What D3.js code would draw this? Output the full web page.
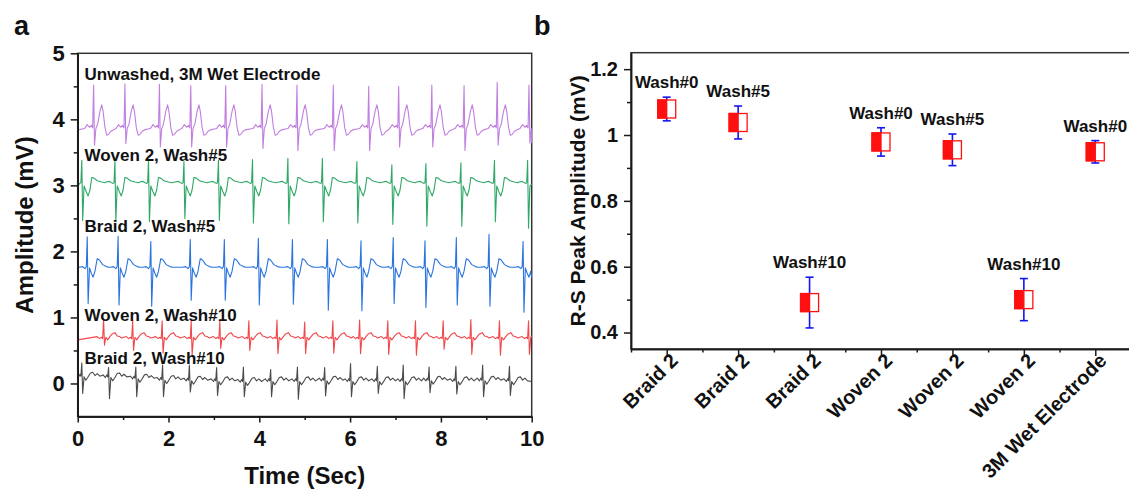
<!DOCTYPE html>
<html>
<head>
<meta charset="utf-8">
<script src="https://cdn.jsdelivr.net/npm/d3@7"></script>
<style>
  body { margin: 0; background: #fff; }
  svg text { font-family: "Liberation Sans", Arial, sans-serif; font-weight: bold; fill: #111; }
</style>
</head>
<body>
<svg id="chart"></svg>
<script>
// ---------- panel a : ECG traces ----------
// each trace: R-peak times (s), R and S values (mV) per beat, and a beat shape
// [time from R, mV] ([0, 0] marks where the R/S spike goes)
const traceNames = ["Unwashed, 3M Wet Electrode", "Woven 2, Wash#5", "Braid 2, Wash#5", "Woven 2, Wash#10", "Braid 2, Wash#10"];

const beats3M = [0.35, 1.04, 1.80, 2.49, 3.26, 4.06, 4.83, 5.63, 6.41, 7.07, 7.80, 8.51, 9.24, 9.94];
const rPeak3M = [4.52, 4.54, 4.53, 4.51, 4.51, 4.53, 4.52, 4.52, 4.50, 4.50, 4.52, 4.51, 4.56, 4.52];
const sPeak3M = [3.61, 3.63, 3.58, 3.58, 3.58, 3.56, 3.53, 3.53, 3.53, 3.58, 3.58, 3.53, 3.61, 3.64];
const shape3M = [[-0.20, 3.86], [-0.14, 3.92], [-0.09, 3.88], [-0.05, 3.91], [-0.02, 3.87], [0, 0],
  [0.05, 3.86], [0.09, 3.93], [0.14, 4.12], [0.18, 4.22], [0.21, 4.12], [0.25, 3.88], [0.29, 3.76],
  [0.33, 3.77], [0.38, 3.82], [0.43, 3.84]];

const beatsW5 = [0.09, 0.82, 1.56, 2.34, 3.10, 3.85, 4.63, 5.39, 6.15, 6.92, 7.67, 8.44, 9.18, 9.91];
const rPeakW5 = [3.38, 3.38, 3.38, 3.36, 3.38, 3.39, 3.41, 3.41, 3.36, 3.31, 3.33, 3.34, 3.38, 3.38];
const sPeakW5 = [2.47, 2.45, 2.45, 2.50, 2.47, 2.43, 2.42, 2.45, 2.43, 2.41, 2.38, 2.38, 2.45, 2.35];
const shapeW5 = [[-0.20, 3.05], [-0.12, 3.06], [-0.05, 3.03], [-0.02, 3.04], [0, 0],
  [0.05, 2.99], [0.10, 2.90], [0.14, 2.84], [0.18, 2.93], [0.22, 3.12], [0.27, 3.11], [0.34, 3.07],
  [0.44, 3.05], [0.52, 3.04]];

const beatsB5 = [0.21, 0.89, 1.61, 2.48, 3.23, 3.98, 4.73, 5.50, 6.24, 6.95, 7.65, 8.34, 9.06, 9.81];
const rPeakB5 = [2.22, 2.23, 2.15, 2.18, 2.18, 2.20, 2.18, 2.18, 2.16, 2.21, 2.16, 2.21, 2.26, 2.15];
const sPeakB5 = [1.21, 1.19, 1.17, 1.26, 1.26, 1.19, 1.20, 1.11, 1.10, 1.21, 1.15, 1.19, 1.17, 1.08];
const shapeB5 = [[-0.18, 1.76], [-0.10, 1.77], [-0.05, 1.74], [-0.02, 1.77], [0, 0],
  [0.05, 1.75], [0.09, 1.67], [0.13, 1.61], [0.17, 1.70], [0.22, 1.89], [0.27, 1.87], [0.34, 1.80],
  [0.42, 1.77], [0.48, 1.76]];

const beatsW10 = [0.57, 1.21, 1.86, 2.50, 3.13, 3.77, 4.39, 5.00, 5.62, 6.21, 6.83, 7.44, 8.05, 8.66, 9.29, 9.93];
const rPeakW10 = [0.98, 0.95, 0.95, 0.95, 0.94, 0.95, 0.96, 0.93, 0.95, 0.96, 0.95, 0.95, 0.95, 0.97, 0.95, 0.95];
const sPeakW10 = [0.58, 0.50, 0.46, 0.43, 0.53, 0.50, 0.45, 0.45, 0.46, 0.45, 0.44, 0.43, 0.52, 0.44, 0.43, 0.44];
const shapeW10 = [[-0.14, 0.71], [-0.09, 0.68], [-0.05, 0.70], [-0.02, 0.68], [0, 0],
  [0.05, 0.70], [0.09, 0.66], [0.14, 0.71], [0.19, 0.75], [0.25, 0.77], [0.30, 0.72], [0.35, 0.71],
  [0.40, 0.69]];

const beatsB10 = [0.09, 0.68, 1.28, 1.87, 2.46, 3.06, 3.65, 4.25, 4.84, 5.44, 6.01, 6.60, 7.17, 7.74, 8.33, 8.92, 9.51];
const rPeakB10 = [0.31, 0.24, 0.25, 0.28, 0.28, 0.24, 0.25, 0.21, 0.25, 0.24, 0.30, 0.26, 0.28, 0.25, 0.26, 0.28, 0.26];
const sPeakB10 = [-0.15, -0.23, -0.20, -0.20, -0.13, -0.18, -0.20, -0.20, -0.24, -0.19, -0.20, -0.15, -0.23, -0.14, -0.16, -0.20, -0.18];
const shapeB10 = [[-0.12, 0.07], [-0.07, 0.03], [-0.04, 0.07], [-0.02, 0.04], [0, 0],
  [0.05, 0.03], [0.09, -0.02], [0.13, 0.02], [0.19, 0.09], [0.24, 0.10], [0.29, 0.05], [0.34, 0.08],
  [0.40, 0.04]];
// slow baseline wander of the bottom trace, one value per beat
const driftB10 = [0.07, 0.06, 0.04, 0.02, 0.01, 0, -0.01, 0, 0, 0.01, 0, 0, 0, 0.01, 0, 0.01, 0];

const traceStart = [3.84, 2.98, 1.75, 0.66, 0.10];
const traceEnd = [3.64, 3.02, 1.60, 0.72, 0.03];

// ---------- panel b : R-S peak amplitude ----------
const sampleNames = ["Braid 2", "Braid 2", "Braid 2", "Woven 2", "Woven 2", "Woven 2", "3M Wet Electrode"];
const washLabels = ["Wash#0", "Wash#5", "Wash#10", "Wash#0", "Wash#5", "Wash#10", "Wash#0"];
const rsMean = [1.079, 1.038, 0.491, 0.979, 0.955, 0.500, 0.949];
const rsSd = [0.036, 0.050, 0.077, 0.043, 0.048, 0.064, 0.034];

// ------------------------------------------------
const width = 1129, height = 489;
const svg = d3.select("#chart").attr("width", width).attr("height", height);

const traces = [
  { beats: beats3M, r: rPeak3M, s: sPeak3M, shape: shape3M },
  { beats: beatsW5, r: rPeakW5, s: sPeakW5, shape: shapeW5 },
  { beats: beatsB5, r: rPeakB5, s: sPeakB5, shape: shapeB5 },
  { beats: beatsW10, r: rPeakW10, s: sPeakW10, shape: shapeW10 },
  { beats: beatsB10, r: rPeakB10, s: sPeakB10, shape: shapeB10, drift: driftB10 }
];
const traceColors = ["#c07fe0", "#2ea866", "#2b74de", "#f0484b", "#4b4b4b"];
const labelAt = [4.6, 3.37, 2.29, 0.94, 0.29];

function buildTrace(tr, k) {
  const pts = [[0, traceStart[k]]];
  tr.beats.forEach((tb, i) => {
    const lift = tr.drift ? tr.drift[i] : 0;
    tr.shape.forEach(([dt, v]) => {
      if (dt === 0) {
        pts.push([tb, tr.r[i]]);
        pts.push([tb + 0.02, tr.s[i]]);
      } else {
        pts.push([tb + dt, v + lift]);
      }
    });
  });
  pts.push([10, traceEnd[k]]);
  return pts.filter(p => p[0] >= 0 && p[0] <= 10).sort((a, b) => a[0] - b[0]);
}

function styleAxis(g, fontSize) {
  g.selectAll("path.domain").attr("stroke", "#1a1a1a").attr("stroke-width", 1.5);
  g.selectAll(".tick line").attr("stroke", "#1a1a1a").attr("stroke-width", 1.5);
  g.selectAll(".tick text")
    .style("font-family", "'Liberation Sans', Arial, sans-serif")
    .style("font-weight", "bold")
    .style("font-size", fontSize + "px")
    .attr("fill", "#111");
}

// ===== panel a =====
const ax = d3.scaleLinear().domain([0, 10]).range([77.7, 531.7]);
const ay = d3.scaleLinear().domain([-0.5, 5]).range([416.5, 53.3]);

svg.append("rect")
  .attr("x", ax(0)).attr("y", ay(5))
  .attr("width", ax(10) - ax(0)).attr("height", ay(-0.5) - ay(5))
  .attr("fill", "none").attr("stroke", "#333").attr("stroke-width", 1.5);

const line = d3.line().x(d => ax(d[0])).y(d => ay(d[1]));

traces.forEach((tr, k) => {
  svg.append("path")
    .attr("fill", "none")
    .attr("stroke", traceColors[k])
    .attr("stroke-width", 1.1)
    .attr("stroke-linejoin", "round")
    .attr("d", line(buildTrace(tr, k)));
});

svg.selectAll("text.trace-label")
  .data(traceNames)
  .join("text")
  .attr("class", "trace-label")
  .attr("x", ax(0.15))
  .attr("y", (d, i) => ay(labelAt[i]))
  .style("font-size", "17px")
  .text(d => d);

// x axis
const axX = svg.append("g")
  .attr("transform", `translate(0,${ay(-0.5)})`)
  .call(d3.axisBottom(ax).tickValues([0, 2, 4, 6, 8, 10]).tickSize(6).tickSizeOuter(0).tickPadding(8)
    .tickFormat(d3.format("d")));
styleAxis(axX, 22);
const axXminor = svg.append("g")
  .attr("transform", `translate(0,${ay(-0.5)})`)
  .call(d3.axisBottom(ax).tickValues([1, 3, 5, 7, 9]).tickSize(3.5).tickSizeOuter(0).tickFormat(""));
styleAxis(axXminor, 22);

// y axis
const axY = svg.append("g")
  .attr("transform", `translate(${ax(0)},0)`)
  .call(d3.axisLeft(ay).tickValues([0, 1, 2, 3, 4, 5]).tickSize(7).tickSizeOuter(0).tickPadding(6)
    .tickFormat(d3.format("d")));
styleAxis(axY, 22);
const axYminor = svg.append("g")
  .attr("transform", `translate(${ax(0)},0)`)
  .call(d3.axisLeft(ay).tickValues([0.5, 1.5, 2.5, 3.5, 4.5]).tickSize(4).tickSizeOuter(0).tickFormat(""));
styleAxis(axYminor, 22);

svg.append("text")
  .attr("x", (ax(0) + ax(10)) / 2).attr("y", 484)
  .attr("text-anchor", "middle")
  .style("font-size", "24px")
  .text("Time (Sec)");

svg.append("text")
  .attr("transform", `translate(33,${ay(2.4)}) rotate(-90)`)
  .attr("text-anchor", "middle")
  .style("font-size", "24px")
  .text("Amplitude (mV)");

svg.append("text").attr("x", 14).attr("y", 35).style("font-size", "27px").text("a");

// ===== panel b =====
const bx = d3.scaleLinear().domain([-0.5, 6.5]).range([631, 1131]);
const by = d3.scaleLinear().domain([0.35, 1.25]).range([349, 52.7]);

svg.append("rect")
  .attr("x", bx(-0.5)).attr("y", by(1.25))
  .attr("width", bx(6.5) - bx(-0.5)).attr("height", by(0.35) - by(1.25))
  .attr("fill", "none").attr("stroke", "#333").attr("stroke-width", 1.5);

const cats = d3.range(sampleNames.length);

// x axis with rotated sample names
const bxAxis = svg.append("g")
  .attr("transform", `translate(0,${by(0.35)})`)
  .call(d3.axisBottom(bx).tickValues(cats).tickSize(7).tickSizeOuter(0).tickFormat(i => sampleNames[i]));
styleAxis(bxAxis, 20);
bxAxis.selectAll(".tick text")
  .attr("text-anchor", "end")
  .attr("dy", null)
  .attr("transform", "translate(12,13) rotate(-45)")
  .attr("x", 0).attr("y", 0);
const bxMinor = svg.append("g")
  .attr("transform", `translate(0,${by(0.35)})`)
  .call(d3.axisBottom(bx).tickValues(cats.map(i => i + 0.5).concat([-0.5])).tickSize(3.5).tickSizeOuter(0).tickFormat(""));
styleAxis(bxMinor, 20);

const byAxis = svg.append("g")
  .attr("transform", `translate(${bx(-0.5)},0)`)
  .call(d3.axisLeft(by).tickValues([0.4, 0.6, 0.8, 1.0, 1.2]).tickSize(7).tickSizeOuter(0).tickPadding(6)
    .tickFormat(d => String(+d.toFixed(1))));
styleAxis(byAxis, 20);
const byMinor = svg.append("g")
  .attr("transform", `translate(${bx(-0.5)},0)`)
  .call(d3.axisLeft(by).tickValues([0.5, 0.7, 0.9, 1.1]).tickSize(4).tickSizeOuter(0).tickFormat(""));
styleAxis(byMinor, 20);

svg.append("text")
  .attr("transform", `translate(585,${(by(0.35) + by(1.25)) / 2}) rotate(-90)`)
  .attr("text-anchor", "middle")
  .style("font-size", "21px")
  .text("R-S Peak Amplitude (mV)");

svg.append("text").attr("x", 534).attr("y", 35).style("font-size", "27px").text("b");

// error bars
const bars = svg.append("g")
  .attr("stroke", "#1515f0")
  .attr("stroke-width", 1.6)
  .attr("fill", "none");
cats.forEach(i => {
  const x = bx(i), y1 = by(rsMean[i] + rsSd[i]), y2 = by(rsMean[i] - rsSd[i]);
  bars.append("line").attr("x1", x).attr("x2", x).attr("y1", y1).attr("y2", y2);
  bars.append("line").attr("x1", x - 4).attr("x2", x + 4).attr("y1", y1).attr("y2", y1);
  bars.append("line").attr("x1", x - 4).attr("x2", x + 4).attr("y1", y2).attr("y2", y2);
});

// half-filled square markers
const ms = 18;
const markers = svg.append("g");
cats.forEach(i => {
  const x = bx(i), y = by(rsMean[i]);
  markers.append("rect")
    .attr("x", x - ms / 2).attr("y", y - ms / 2)
    .attr("width", ms).attr("height", ms)
    .attr("fill", "#fff").attr("stroke", "#ff1010").attr("stroke-width", 1.3);
  markers.append("rect")
    .attr("x", x - ms / 2).attr("y", y - ms / 2)
    .attr("width", ms / 2).attr("height", ms)
    .attr("fill", "#ff1010").attr("stroke", "#ff1010").attr("stroke-width", 1.3);
});

svg.selectAll("text.wash")
  .data(washLabels)
  .join("text")
  .attr("class", "wash")
  .attr("x", (d, i) => bx(i))
  .attr("y", (d, i) => by(rsMean[i] + rsSd[i]) - 9)
  .attr("text-anchor", "middle")
  .style("font-size", "17px")
  .text(d => d);
</script>
</body>
</html>
